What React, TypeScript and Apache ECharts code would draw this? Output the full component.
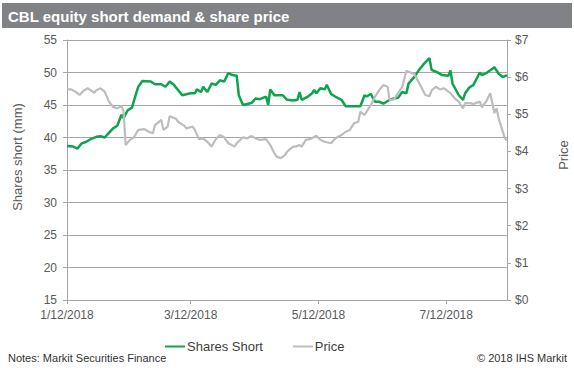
import React, { useEffect, useRef } from "react";
import * as echarts from "echarts";

// Day offsets are days since 1/12/2018
const shortDays = [0, 3, 5, 7, 9, 11, 14, 16, 18, 20, 22, 24, 26, 27, 29, 31, 33, 34, 36, 40, 42, 45, 47, 49, 51, 53, 55, 59, 61, 62, 64, 65, 67, 69, 71, 73, 75, 77, 79, 81, 82, 84, 88, 90, 92, 95, 96, 97, 99, 103, 105, 108, 110, 111, 112, 115, 117, 118, 119, 121, 123, 124, 126, 128, 131, 133, 140, 142, 143, 145, 147, 149, 151, 154, 156, 158, 160, 162, 163, 166, 168, 170, 173, 174, 177, 179, 182, 183, 184, 187, 189, 190, 192, 194, 197, 198, 200, 204, 206, 208, 210];
const sharesShort = [38.7, 38.6, 38.3, 39.1, 39.3, 39.7, 40.1, 40.2, 40.0, 40.7, 41.4, 41.8, 43.5, 43.0, 44.2, 44.6, 46.8, 47.8, 48.7, 48.6, 48.2, 48.2, 47.8, 48.6, 48.1, 47.3, 46.5, 46.8, 46.8, 47.4, 47.0, 47.8, 47.0, 48.3, 48.1, 48.8, 48.6, 49.9, 49.6, 49.5, 46.5, 45.0, 45.3, 46.0, 45.9, 46.3, 45.0, 47.4, 46.5, 46.5, 45.8, 45.7, 45.8, 47.0, 45.8, 46.3, 46.8, 47.3, 46.8, 47.6, 47.4, 48.1, 46.7, 46.3, 45.8, 44.8, 44.8, 46.5, 46.3, 46.7, 45.5, 45.5, 45.2, 45.8, 46.0, 46.1, 47.0, 46.8, 48.3, 49.4, 50.4, 51.2, 52.2, 50.4, 50.0, 49.6, 49.5, 50.3, 48.3, 46.5, 45.8, 46.8, 47.7, 48.1, 50.0, 49.6, 49.9, 50.8, 49.8, 49.3, 49.6];

const priceDays = [0, 2, 4, 6, 8, 10, 13, 14, 16, 18, 20, 22, 24, 26, 27, 28, 30, 32, 34, 37, 39, 41, 42, 45, 46, 48, 49, 52, 53, 56, 57, 60, 61, 63, 65, 67, 69, 71, 73, 75, 77, 80, 81, 84, 86, 88, 90, 92, 95, 97, 99, 100, 102, 104, 105, 106, 108, 109, 111, 112, 114, 116, 119, 121, 123, 126, 128, 131, 133, 135, 137, 139, 140, 142, 143, 145, 147, 149, 151, 153, 154, 156, 158, 160, 162, 165, 166, 169, 171, 173, 174, 176, 178, 180, 182, 183, 185, 187, 189, 190, 192, 194, 197, 198, 200, 202, 204, 205, 206, 209, 210];
const price = [5.67, 5.67, 5.61, 5.52, 5.64, 5.70, 5.58, 5.65, 5.70, 5.61, 5.34, 5.20, 5.16, 5.22, 5.07, 4.17, 4.31, 4.38, 4.58, 4.60, 4.53, 4.49, 4.71, 4.85, 4.58, 4.67, 4.95, 4.88, 4.80, 4.69, 4.62, 4.67, 4.58, 4.33, 4.35, 4.26, 4.13, 4.33, 4.44, 4.38, 4.22, 4.13, 4.22, 4.38, 4.35, 4.42, 4.35, 4.31, 4.33, 4.17, 3.95, 3.86, 3.82, 3.90, 3.99, 4.04, 4.13, 4.13, 4.17, 4.13, 4.31, 4.33, 4.42, 4.31, 4.26, 4.22, 4.35, 4.44, 4.53, 4.58, 4.76, 4.80, 5.07, 4.98, 5.07, 5.25, 5.47, 5.65, 5.79, 5.74, 5.38, 5.40, 5.57, 5.74, 6.17, 6.10, 6.06, 5.74, 5.52, 5.49, 5.64, 5.74, 5.67, 5.70, 5.61, 5.57, 5.43, 5.34, 5.16, 5.30, 5.30, 5.28, 5.34, 5.19, 5.34, 5.57, 5.03, 5.16, 4.89, 4.35, 4.30];

const totalDays = 211;
const labelDayIdx = [0, 59, 120, 181];
const leftTicks = { min: 15, max: 55, interval: 5 };
const rightTicks = { min: 0, max: 7, interval: 1 };

const FONT = '"Liberation Sans", Arial, sans-serif';

export default function App() {
  const ref = useRef<HTMLDivElement>(null);
  useEffect(() => {
    if (!ref.current) return;
    const chart = echarts.init(ref.current, null, { renderer: "svg" });
    const start = Date.UTC(2018, 0, 12);
    const cats: string[] = [];
    for (let i = 0; i < totalDays; i++) {
      const d = new Date(start + i * 86400000);
      cats.push(`${d.getUTCMonth() + 1}/${d.getUTCDate()}/${d.getUTCFullYear()}`);
    }
    const showIdx = (i: number) => labelDayIdx.includes(i);
    const axisGray = "#a6a6a6";
    const labelColor = "#595959";
    chart.setOption({
      animation: false,
      textStyle: { fontFamily: FONT },
      grid: { left: 67, right: 67, top: 40, bottom: 68 },
      legend: {
        top: 335,
        left: 160,
        itemGap: 30,
        itemWidth: 20,
        itemHeight: 2,
        icon: "rect",
        textStyle: { fontSize: 13, color: "#404040", fontFamily: FONT, padding: [0, 0, 0, -3] },
        data: [
          { name: "Shares Short", itemStyle: { color: "#0ea44d" } },
          { name: "Price", itemStyle: { color: "#bdbdbd" } },
        ],
      },
      graphic: [
        { type: "rect", shape: { x: 2, y: 3, width: 570, height: 25 }, style: { fill: "#808285" }, silent: true },
        {
          type: "text",
          x: 8,
          y: 16,
          style: {
            text: "CBL equity short demand & share price",
            fill: "#ffffff",
            font: 'bold 15px "Liberation Sans", Arial, sans-serif',
            verticalAlign: "middle",
          },
        },
        {
          type: "text",
          x: 17,
          y: 157,
          rotation: Math.PI / 2,
          style: { text: "Shares short (mm)", fill: labelColor, font: `13px ${FONT}`, align: "center", verticalAlign: "middle" },
        },
        {
          type: "text",
          x: 563,
          y: 155,
          rotation: Math.PI / 2,
          style: { text: "Price", fill: labelColor, font: `13px ${FONT}`, align: "center", verticalAlign: "middle" },
        },
        {
          type: "text",
          x: 8,
          y: 358,
          style: { text: "Notes: Markit Securities Finance", fill: "#333333", font: `11px ${FONT}`, verticalAlign: "middle" },
        },
        {
          type: "text",
          x: 567,
          y: 358,
          style: { text: "© 2018 IHS Markit", fill: "#333333", font: `11px ${FONT}`, align: "right", verticalAlign: "middle" },
        },
      ],
      xAxis: {
        type: "category",
        data: cats,
        boundaryGap: false,
        axisLine: { lineStyle: { color: axisGray } },
        axisTick: { interval: (i: number) => showIdx(i), length: 4, lineStyle: { color: axisGray } },
        axisLabel: { interval: (i: number) => showIdx(i), color: labelColor, fontSize: 12, margin: 9 },
        splitLine: { show: false },
      },
      yAxis: [
        {
          type: "value",
          min: leftTicks.min,
          max: leftTicks.max,
          interval: leftTicks.interval,
          axisLine: { show: true, lineStyle: { color: axisGray } },
          axisTick: { show: true, length: 4, lineStyle: { color: axisGray } },
          axisLabel: { color: labelColor, fontSize: 12, margin: 10 },
          splitLine: { lineStyle: { color: axisGray, width: 1 } },
        },
        {
          type: "value",
          min: rightTicks.min,
          max: rightTicks.max,
          interval: rightTicks.interval,
          position: "right",
          axisLine: { show: true, lineStyle: { color: axisGray } },
          axisTick: { show: true, length: 4, lineStyle: { color: axisGray } },
          axisLabel: { color: labelColor, fontSize: 12, margin: 8, formatter: (v: number) => `$${v}` },
          splitLine: { show: false },
        },
      ],
      series: [
        {
          name: "Shares Short",
          type: "line",
          yAxisIndex: 0,
          showSymbol: false,
          symbol: "none",
          lineStyle: { color: "#0ea44d", width: 2.5 },
          itemStyle: { color: "#0ea44d" },
          data: shortDays.map((d, i) => [cats[d], sharesShort[i]]),
          z: 2,
        },
        {
          name: "Price",
          type: "line",
          yAxisIndex: 1,
          showSymbol: false,
          symbol: "none",
          lineStyle: { color: "#bdbdbd", width: 2.2 },
          itemStyle: { color: "#bdbdbd" },
          data: priceDays.map((d, i) => [cats[d], price[i]]),
          z: 3,
        },
      ],
    });
    return () => chart.dispose();
  }, []);
  return <div ref={ref} style={{ width: 574, height: 368, position: "absolute", left: 0, top: 0 }} />;
}
